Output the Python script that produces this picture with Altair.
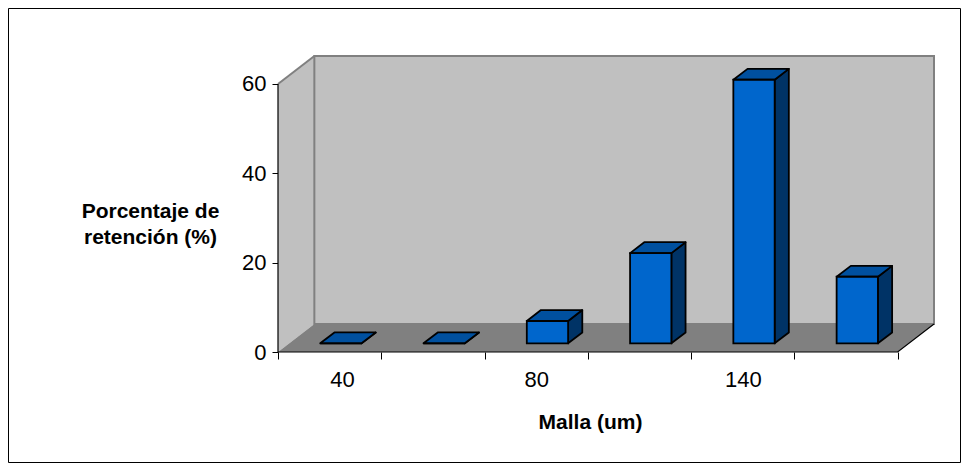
import json
import altair as alt
import pandas as pd

# ---- data ----
categories = ["40", "60", "80", "100", "140", "200"]
values = [0.0, 0.0, 5.0, 20.2, 59.0, 14.9]
shown_labels = ["40", "", "80", "", "140", "", ""]   # Excel shows every other label
y_ticks = [0, 20, 40, 60]
y_title = ["Porcentaje de", "retención (%)"]
x_title = "Malla (um)"

# ---- 3D geometry (in data units) ----
N = len(categories)
YTOP = 60
DX = 0.352          # depth, category units
DY = 6.26           # depth, value units
F0, F1 = 0.31, 0.70 # bar depth span (fraction of full depth)
BW = 0.40           # bar width, category units
ddx, ddy = (F1 - F0) * DX, (F1 - F0) * DY

FONT = "Liberation Sans"
xs = alt.Scale(domain=[0, N + DX], nice=False, zero=False)
ys = alt.Scale(domain=[0, YTOP + DY], nice=False, zero=False)

front, side, top = [], [], []
for i, (c, v) in enumerate(zip(categories, values)):
    xl = i + 0.5 - BW / 2 + F0 * DX
    xr = xl + BW
    yb = F0 * DY
    front.append(dict(id=c, x=xl, x2=xr, y=yb, y2=yb + v))
    side.append(dict(id=c, x=xr, y=yb, y2=yb + v))
    side.append(dict(id=c, x=xr + ddx, y=yb + ddy, y2=yb + ddy + v))
    top.append(dict(id=c, y=yb + v, x=xl, x2=xr))
    top.append(dict(id=c, y=yb + ddy + v, x=xl + ddx, x2=xr + ddx))

front_df = pd.DataFrame(front)
side_df = pd.DataFrame(side)
top_df = pd.DataFrame(top)

back_df = pd.DataFrame([dict(x=DX, x2=N + DX, y=DY, y2=YTOP + DY)])
left_df = pd.DataFrame([dict(id="l", x=0, y=0, y2=YTOP), dict(id="l", x=DX, y=DY, y2=YTOP + DY)])
floor_df = pd.DataFrame([dict(id="f", y=0, x=0, x2=N), dict(id="f", y=DY, x=DX, x2=N + DX)])

label_expr = json.dumps(shown_labels) + "[datum.value]"

x_axis = alt.Axis(values=list(range(N + 1)), domain=False, grid=False, tickSize=7,
                  tickColor="black", tickWidth=1, labelExpr=label_expr, labelOffset=51.7,
                  labelFontSize=22, labelFont=FONT, labelColor="black", labelPadding=10,
                  title=x_title, titleFont=FONT, titleFontSize=21, titleFontWeight="bold",
                  titleColor="black", titleX=312, titleY=76, titleBaseline="alphabetic",
                  titleAnchor="middle", titleAlign="center")
y_axis = alt.Axis(values=y_ticks, domain=False, grid=False, tickSize=6, tickColor="black",
                  tickWidth=1, labelFontSize=22, labelFont=FONT, labelColor="black",
                  labelPadding=6, title=y_title, titleFont=FONT, titleFontSize=21,
                  titleFontWeight="bold", titleColor="black", titleAngle=0, titleX=-128,
                  titleY=161, titleBaseline="alphabetic", titleAlign="center",
                  titleLineHeight=26.5)


def X(f="x"):
    return alt.X(f + ":Q", scale=xs, axis=x_axis)


def Y(f="y"):
    return alt.Y(f + ":Q", scale=ys, axis=y_axis)


back = alt.Chart(back_df).mark_rect(fill="#C0C0C0").encode(x=X(), x2="x2", y=Y(), y2="y2")

left = alt.Chart(left_df).mark_area(orient="vertical", fill="#C0C0C0").encode(
    x=X(), y=Y(), y2="y2", detail="id:N")

floor = alt.Chart(floor_df).mark_area(orient="horizontal", fill="#808080").encode(
    y=Y(), x=X(), x2="x2", detail="id:N")

back_edge = alt.Chart(back_df).mark_rect(fill=None, stroke="#808080", strokeWidth=2).encode(
    x=X(), x2="x2", y=Y(), y2="y2")

# gray diagonal on top of left wall
diag_df = pd.DataFrame([dict(id="t", x=0, y=YTOP), dict(id="t", x=DX, y=YTOP + DY)])
diag = alt.Chart(diag_df).mark_line(color="#808080", strokeWidth=2).encode(
    x=X(), y=Y(), detail="id:N")

# black front edges: y axis line, floor front edge and right floor edge
edges_df = pd.DataFrame([
    dict(id="a", o=0, x=0, y=YTOP), dict(id="a", o=1, x=0, y=0),
    dict(id="a", o=2, x=N, y=0), dict(id="a", o=3, x=N + DX, y=DY)])
edges = alt.Chart(edges_df).mark_line(color="black", strokeWidth=1.2).encode(
    x=X(), y=Y(), order="o:Q", detail="id:N")

bars_front = alt.Chart(front_df).mark_rect(fill="#0066CC", stroke="black", strokeWidth=1.8).encode(
    x=X(), x2="x2", y=Y(), y2="y2")

bars_side = alt.Chart(side_df).mark_area(orient="vertical", fill="#003366", stroke="black",
                                         strokeWidth=1.8, strokeJoin="round").encode(
    x=X(), y=Y(), y2="y2", detail="id:N")

bars_top = alt.Chart(top_df).mark_area(orient="horizontal", fill="#00509F", stroke="black",
                                       strokeWidth=1.8, strokeJoin="round").encode(
    y=Y(), x=X(), x2="x2", detail="id:N")

# outer frame of the chart object
frame = alt.Chart(pd.DataFrame([{"k": 0}])).mark_rect(fill=None, stroke="black", strokeWidth=1).encode(
    x=alt.value(-269.5), x2=alt.value(682.5), y=alt.value(-47.5), y2=alt.value(406.5))

chart = alt.layer(
    back, left, floor, back_edge, diag, edges, bars_side, bars_top, bars_front, frame
).properties(
    width=656, height=296,
    autosize=alt.AutoSizeParams(type="none"),
    padding={"left": 270, "top": 48, "right": 27, "bottom": 111},
    background="white",
).configure_view(stroke=None)

chart.save("out.html", embed_options={"renderer": "svg", "actions": False})
